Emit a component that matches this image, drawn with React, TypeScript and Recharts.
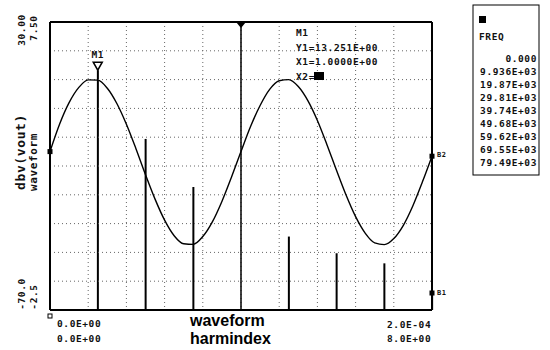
import React from 'react';
import {
  ComposedChart,
  Line,
  Bar,
  XAxis,
  YAxis,
  ReferenceLine,
  ReferenceDot,
} from 'recharts';

// harmonic spectrum (dB) by harmonic index
const harmIndex = [1, 2, 3, 5, 6, 7, 8];
const harmDb = [13.25, -10.6, -27.3, -44.5, -50.3, -53.8, -64.1];

// transient waveform (V), sampled every 5 us over 0..200 us
const waveTime = [
  0, 5, 10, 15, 20, 25, 30, 35, 40, 45, 50, 55, 60, 65, 70, 75, 80, 85, 90, 95, 100,
  105, 110, 115, 120, 125, 130, 135, 140, 145, 150, 155, 160, 165, 170, 175, 180, 185, 190, 195, 200,
];
const waveVolts = [
  3.0, 3.95, 4.7, 5.22, 5.49, 5.48, 5.2, 4.67, 3.95, 3.1, 2.2, 1.35, 0.62, 0.08, -0.2, -0.22, 0.05, 0.56, 1.27, 2.11,
  3.0, 3.87, 4.6, 5.16, 5.46, 5.5, 5.26, 4.77, 4.08, 3.24, 2.35, 1.49, 0.74, 0.17, -0.17, -0.23, -0.02, 0.44, 1.12, 1.95,
  2.84,
];

const freqLabels = [
  '0.000', '9.936E+03', '19.87E+03', '29.81E+03', '39.74E+03',
  '49.68E+03', '59.62E+03', '69.55E+03', '79.49E+03',
];

// axis ranges and grid divisions
const dbRange = [-70, 30];
const voltRange = [-2.5, 7.5];
const timeRange = [0, 200];
const harmRange = [0, 8];
const dbGrid = [-60, -50, -40, -30, -20, -10, 0, 10, 20];
const timeGrid = [20, 40, 60, 80, 100, 120, 140, 160, 180];

const M1 = { x: 1, y: 13.25 };
const M2_X = 4;

const stems = harmIndex.map((h, i) => ({ h, db: harmDb[i] }));
const wave = waveTime.map((t, i) => ({ t, v: waveVolts[i] }));

const mono = '"DejaVu Sans Mono", monospace';
const small = { fontFamily: mono, fontSize: 9.5, fontWeight: 700, fill: '#111', letterSpacing: 0.6 };
const gridStyle = { stroke: '#666', strokeDasharray: '1 3', strokeWidth: 1 };
const frameStyle = { stroke: '#000', strokeWidth: 2 };

export default function App() {
  return (
    <div style={{ position: 'absolute', left: 0, top: 0, width: 550, height: 350, background: '#fff' }}>
      <ComposedChart
        width={550}
        height={350}
        data={stems}
        margin={{ top: 22, right: 118, bottom: 40, left: 50 }}
      >
        <XAxis xAxisId="h" dataKey="h" type="number" domain={harmRange} ticks={harmRange}
          tick={false} tickLine={false} height={0} axisLine={false} />
        <XAxis xAxisId="t" dataKey="t" type="number" domain={timeRange} ticks={timeRange} orientation="top"
          tick={false} tickLine={false} height={0} axisLine={false} />
        <YAxis yAxisId="db" type="number" domain={dbRange} ticks={dbRange}
          tick={false} tickLine={false} width={0} axisLine={false} />
        <YAxis yAxisId="v" type="number" domain={voltRange} ticks={voltRange} orientation="right"
          tick={false} tickLine={false} width={0} axisLine={false} />

        {dbGrid.map((d) => (
          <ReferenceLine key={'h' + d} xAxisId="h" yAxisId="db" y={d} {...gridStyle} />
        ))}
        {timeGrid.map((t) => (
          <ReferenceLine key={'v' + t} xAxisId="t" yAxisId="v" x={t} {...gridStyle} />
        ))}

        <Bar xAxisId="h" yAxisId="db" dataKey={(d: any) => [dbRange[0], d.db]} fill="#000" barSize={2}
          isAnimationActive={false} />

        <Line xAxisId="t" yAxisId="v" data={wave} dataKey="v" type="monotone" stroke="#000"
          strokeWidth={1.4} dot={false} isAnimationActive={false} />

        {/* plot frame */}
        <ReferenceLine xAxisId="h" yAxisId="db" y={dbRange[0]} {...frameStyle} />
        <ReferenceLine xAxisId="h" yAxisId="db" y={dbRange[1]} {...frameStyle} />
        <ReferenceLine xAxisId="h" yAxisId="db" x={harmRange[0]} {...frameStyle} />
        <ReferenceLine xAxisId="h" yAxisId="db" x={harmRange[1]} {...frameStyle} />

        <ReferenceLine xAxisId="h" yAxisId="db" x={M2_X} stroke="#000" strokeWidth={1.5}
          label={({ viewBox }: any) => (
            <polygon
              points={`${viewBox.x - 5},${viewBox.y} ${viewBox.x + 5},${viewBox.y} ${viewBox.x},${viewBox.y + 6}`}
              fill="#000"
            />
          )} />

        <ReferenceDot xAxisId="h" yAxisId="db" x={M1.x} y={M1.y}
          shape={({ cx, cy }: any) => (
            <g>
              <polygon points={`${cx - 4.5},${cy - 8} ${cx + 4.5},${cy - 8} ${cx},${cy}`}
                fill="#fff" stroke="#000" strokeWidth={1.5} />
              <text x={cx} y={cy - 12} textAnchor="middle" {...small}>M1</text>
            </g>
          )} />

        <ReferenceDot xAxisId="t" yAxisId="v" x={waveTime[0]} y={waveVolts[0]}
          shape={({ cx, cy }: any) => <rect x={cx - 2.5} y={cy - 2.5} width={5} height={5} fill="#000" />} />
        <ReferenceDot xAxisId="t" yAxisId="v" x={waveTime[waveTime.length - 1]} y={waveVolts[waveVolts.length - 1]}
          shape={({ cx, cy }: any) => (
            <g>
              <rect x={cx - 2.5} y={cy - 2.5} width={5} height={5} fill="#000" />
              <text x={cx + 5} y={cy + 1} {...small} fontSize={7}>B2</text>
            </g>
          )} />
        <ReferenceDot xAxisId="h" yAxisId="db" x={harmIndex[harmIndex.length - 1]} y={harmDb[harmDb.length - 1]}
          shape={({ cx, cy }: any) => (
            <g>
              <rect x={cx - 2.5} y={cy - 2.5} width={5} height={5} fill="#000" />
              <text x={cx + 5} y={cy + 2} {...small} fontSize={7}>B1</text>
            </g>
          )} />
      </ComposedChart>

      <svg width={550} height={350} style={{ position: 'absolute', left: 0, top: 0, pointerEvents: 'none' }}>
        {/* left rotated axis texts */}
        <g {...small}>
          <text transform="rotate(-90 25 30)" x={25} y={30} textAnchor="middle">30.00</text>
          <text transform="rotate(-90 37 28)" x={37} y={28} textAnchor="middle">7.50</text>
          <text transform="rotate(-90 25 152)" x={25} y={152} textAnchor="middle" fontSize={13}>dbv(vout)</text>
          <text transform="rotate(-90 37 162)" x={37} y={162} textAnchor="middle" fontSize={11}>waveform</text>
          <text transform="rotate(-90 25 294)" x={25} y={294} textAnchor="middle">-70.0</text>
          <text transform="rotate(-90 37 297)" x={37} y={297} textAnchor="middle">-2.5</text>
        </g>

        {/* bottom axis texts */}
        <rect x={48} y={314} width={4} height={4} fill="none" stroke="#000" strokeWidth={1} />
        <g {...small}>
          <text x={57} y={327}>0.0E+00</text>
          <text x={57} y={342}>0.0E+00</text>
          <text x={387} y={328}>2.0E-04</text>
          <text x={387} y={342}>8.0E+00</text>
        </g>
        <text x={190} y={326} fontFamily='"Liberation Sans", Arial, sans-serif' fontSize={16} fontWeight={700}>waveform</text>
        <text x={190} y={344} fontFamily='"Liberation Sans", Arial, sans-serif' fontSize={16} fontWeight={700}>harmindex</text>

        {/* marker readout */}
        <g {...small}>
          <text x={296} y={36}>M1</text>
          <text x={296} y={51}>Y1=13.251E+00</text>
          <text x={296} y={65}>X1=1.0000E+00</text>
          <text x={296} y={80}>X2=</text>
        </g>
        <rect x={314} y={72} width={10} height={8} fill="#000" />

        {/* frequency legend box */}
        <rect x={473} y={5} width={66} height={170} fill="#fff" stroke="#000" strokeWidth={1} />
        <rect x={479} y={16} width={7} height={7} fill="#000" />
        <g {...small}>
          <text x={479} y={40}>FREQ</text>
          {freqLabels.map((f, i) => (
            <text key={f} x={537} y={62 + i * 13} textAnchor="end">{f}</text>
          ))}
        </g>
      </svg>
    </div>
  );
}
